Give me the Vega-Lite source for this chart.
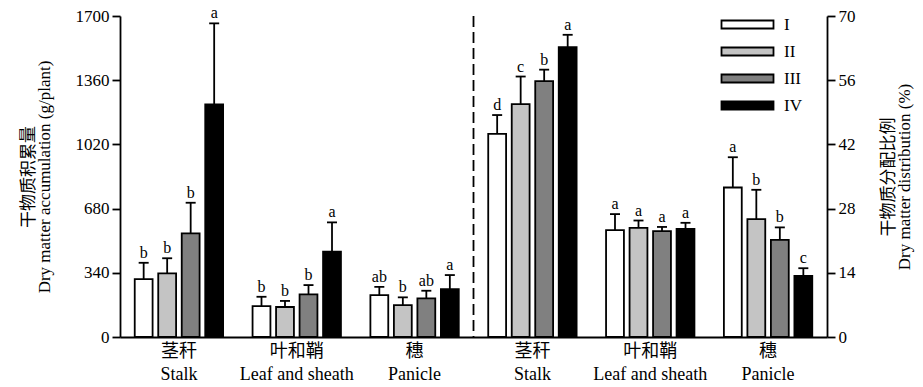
{
  "$schema": "https://vega.github.io/schema/vega-lite/v6.json",
  "autosize": {"type": "none"},
  "width": 707,
  "height": 321,
  "padding": {"left": 120, "top": 16, "right": 96, "bottom": 50},
  "background": "white",
  "config": {
    "view": {"stroke": null},
    "font": "Liberation Serif",
    "axis": {
      "labelFont": "Liberation Serif, Noto Sans CJK SC",
      "labelFontSize": 17,
      "labelColor": "black",
      "titleFont": "Liberation Serif, Noto Sans CJK SC",
      "titleFontSize": 17,
      "titleFontWeight": "normal",
      "titleColor": "black",
      "domainColor": "black",
      "domainWidth": 1.8,
      "tickColor": "black",
      "tickWidth": 1.8,
      "tickSize": 8,
      "grid": false
    },
    "legend": {
      "labelFont": "Liberation Serif",
      "labelFontSize": 17,
      "labelColor": "black"
    }
  },
  "datasets": {
    "acc": [
      {"grp": "L1", "trt": "I", "mean": 307, "upper": 393, "sig": "b"},
      {"grp": "L1", "trt": "II", "mean": 337, "upper": 417, "sig": "b"},
      {"grp": "L1", "trt": "III", "mean": 549, "upper": 711, "sig": "b"},
      {"grp": "L1", "trt": "IV", "mean": 1232, "upper": 1661, "sig": "a"},
      {"grp": "L2", "trt": "I", "mean": 164, "upper": 213, "sig": "b"},
      {"grp": "L2", "trt": "II", "mean": 159, "upper": 191, "sig": "b"},
      {"grp": "L2", "trt": "III", "mean": 226, "upper": 275, "sig": "b"},
      {"grp": "L2", "trt": "IV", "mean": 452, "upper": 607, "sig": "a"},
      {"grp": "L3", "trt": "I", "mean": 222, "upper": 265, "sig": "ab"},
      {"grp": "L3", "trt": "II", "mean": 169, "upper": 210, "sig": "b"},
      {"grp": "L3", "trt": "III", "mean": 205, "upper": 245, "sig": "ab"},
      {"grp": "L3", "trt": "IV", "mean": 254, "upper": 328, "sig": "a"}
    ],
    "dist": [
      {"grp": "R1", "trt": "I", "mean": 44.3, "upper": 48.4, "sig": "d"},
      {"grp": "R1", "trt": "II", "mean": 50.8, "upper": 56.8, "sig": "c"},
      {"grp": "R1", "trt": "III", "mean": 55.8, "upper": 58.3, "sig": "b"},
      {"grp": "R1", "trt": "IV", "mean": 63.2, "upper": 65.9, "sig": "a"},
      {"grp": "R2", "trt": "I", "mean": 23.3, "upper": 26.8, "sig": "a"},
      {"grp": "R2", "trt": "II", "mean": 23.8, "upper": 25.4, "sig": "a"},
      {"grp": "R2", "trt": "III", "mean": 23.1, "upper": 24.0, "sig": "a"},
      {"grp": "R2", "trt": "IV", "mean": 23.6, "upper": 24.9, "sig": "a"},
      {"grp": "R3", "trt": "I", "mean": 32.6, "upper": 39.2, "sig": "a"},
      {"grp": "R3", "trt": "II", "mean": 25.7, "upper": 32.1, "sig": "b"},
      {"grp": "R3", "trt": "III", "mean": 21.2, "upper": 23.9, "sig": "b"},
      {"grp": "R3", "trt": "IV", "mean": 13.3, "upper": 15.0, "sig": "c"}
    ]
  },
  "encoding": {
    "x": {
      "field": "grp",
      "type": "nominal",
      "scale": {"domain": ["L1", "L2", "L3", "R1", "R2", "R3"], "paddingInner": 0.25, "paddingOuter": 0.125},
      "axis": {
        "title": null,
        "ticks": false,
        "labelAngle": 0,
        "labelPadding": 5,
        "labelFontSize": 18,
        "labelLineHeight": 23,
        "labelExpr": "(datum.value == 'L1' || datum.value == 'R1') ? ['茎秆', 'Stalk'] : (datum.value == 'L2' || datum.value == 'R2') ? ['叶和鞘', 'Leaf and sheath'] : ['穗', 'Panicle']"
      }
    },
    "xOffset": {
      "field": "trt",
      "type": "nominal",
      "sort": ["I", "II", "III", "IV"],
      "scale": {"paddingInner": 0.24, "paddingOuter": 0}
    },
    "color": {
      "field": "trt",
      "type": "nominal",
      "sort": ["I", "II", "III", "IV"],
      "scale": {"domain": ["I", "II", "III", "IV"], "range": ["#ffffff", "#c4c4c4", "#808080", "#000000"]},
      "legend": {
        "title": null,
        "orient": "none",
        "legendX": 619,
        "legendY": 0,
        "padding": 0,
        "symbolType": "M-5.2,-0.8H5.2V0.8H-5.2Z",
        "symbolSize": 100,
        "symbolStrokeColor": "black",
        "symbolStrokeWidth": 1.8,
        "symbolOpacity": 1,
        "rowPadding": 9,
        "labelOffset": 28
      }
    }
  },
  "layer": [
    {
      "data": {"name": "acc"},
      "encoding": {
        "y": {
          "field": "mean",
          "type": "quantitative",
          "scale": {"domain": [0, 1700], "nice": false},
          "axis": {
            "values": [0, 340, 680, 1020, 1360, 1700],
            "format": "d",
            "title": ["干物质积累量", "Dry matter accumulation (g/plant)"],
            "titleLineHeight": 16,
            "titlePadding": 22,
            "labelPadding": 3
          }
        }
      },
      "layer": [
        {"mark": {"type": "rule", "stroke": "black", "strokeWidth": 1.8}, "encoding": {"y": {"field": "mean", "type": "quantitative"}, "y2": {"field": "upper"}, "color": {"value": "black"}}},
        {"mark": {"type": "tick", "orient": "horizontal", "size": 10, "thickness": 1.8, "color": "black", "opacity": 1}, "encoding": {"y": {"field": "upper", "type": "quantitative"}, "color": {"value": "black"}}},
        {"mark": {"type": "bar", "stroke": "black", "strokeWidth": 1.8, "opacity": 1}},
        {"mark": {"type": "text", "font": "Liberation Serif", "fontSize": 16, "dy": -5, "baseline": "alphabetic"}, "encoding": {"y": {"field": "upper", "type": "quantitative"}, "text": {"field": "sig"}, "color": {"value": "black"}}}
      ]
    },
    {
      "data": {"name": "dist"},
      "encoding": {
        "y": {
          "field": "mean",
          "type": "quantitative",
          "scale": {"domain": [0, 70], "nice": false},
          "axis": {
            "orient": "right",
            "values": [0, 14, 28, 42, 56, 70],
            "title": ["干物质分配比例", "Dry matter distribution (%)"],
            "titleAngle": -90,
            "titleLineHeight": 16,
            "titlePadding": 26,
            "labelPadding": 3
          }
        }
      },
      "layer": [
        {"mark": {"type": "rule", "stroke": "black", "strokeWidth": 1.8}, "encoding": {"y": {"field": "mean", "type": "quantitative"}, "y2": {"field": "upper"}, "color": {"value": "black"}}},
        {"mark": {"type": "tick", "orient": "horizontal", "size": 10, "thickness": 1.8, "color": "black", "opacity": 1}, "encoding": {"y": {"field": "upper", "type": "quantitative"}, "color": {"value": "black"}}},
        {"mark": {"type": "bar", "stroke": "black", "strokeWidth": 1.8, "opacity": 1}},
        {"mark": {"type": "text", "font": "Liberation Serif", "fontSize": 16, "dy": -5, "baseline": "alphabetic"}, "encoding": {"y": {"field": "upper", "type": "quantitative"}, "text": {"field": "sig"}, "color": {"value": "black"}}}
      ]
    },
    {
      "data": {"values": [{"grp": "L3"}]},
      "mark": {"type": "rule", "stroke": "black", "strokeWidth": 1.8, "strokeDash": [11, 5]},
      "encoding": {
        "x": {"field": "grp", "type": "nominal", "bandPosition": 1.1667},
        "xOffset": null,
        "color": null
      }
    }
  ],
  "resolve": {"scale": {"y": "independent"}, "axis": {"y": "independent"}}
}
